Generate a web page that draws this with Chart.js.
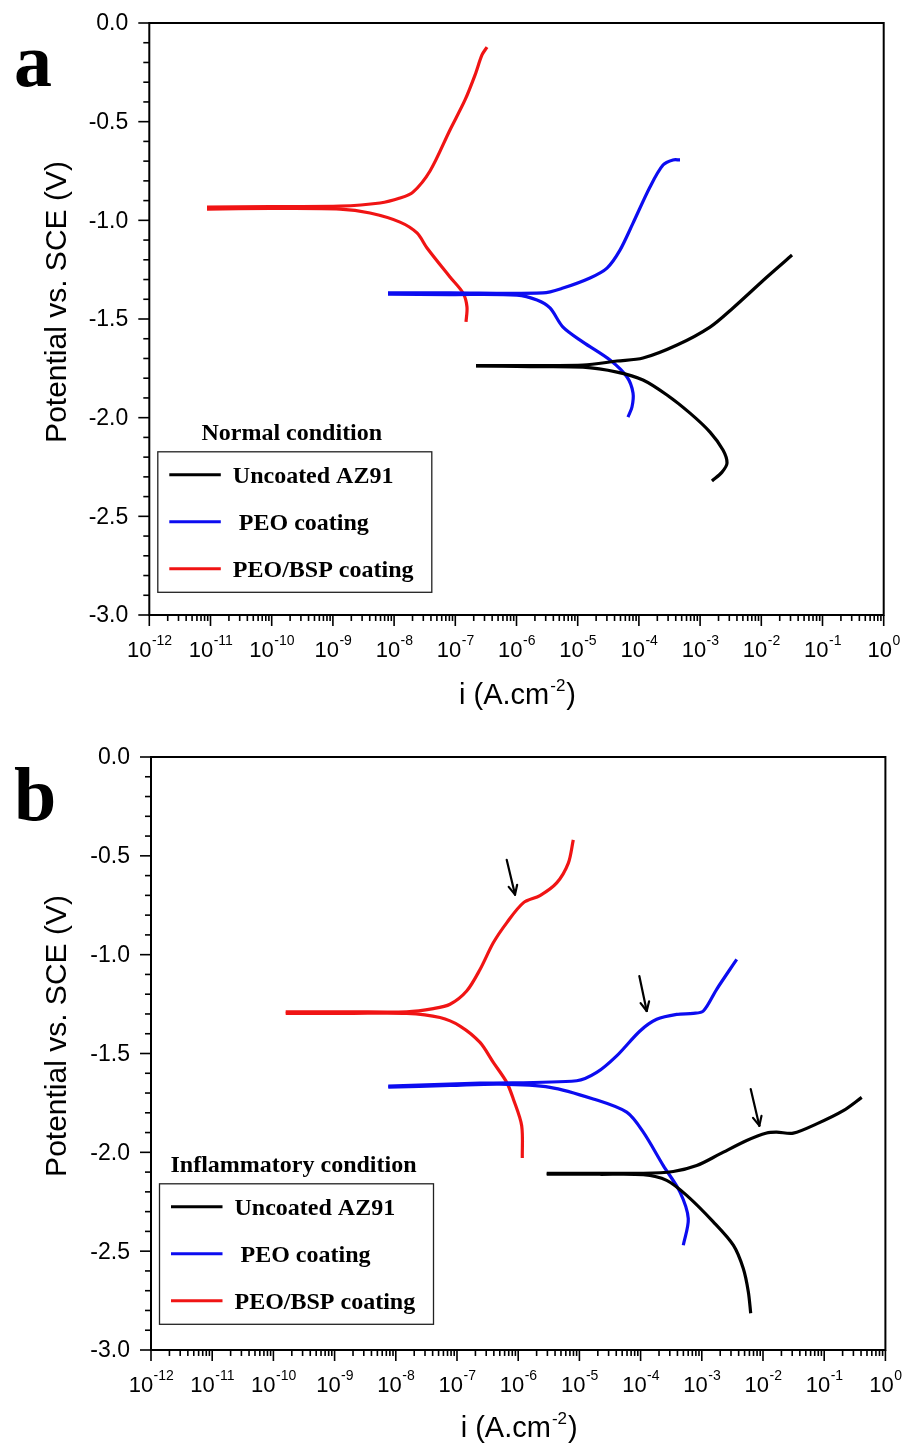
<!DOCTYPE html>
<html>
<head>
<meta charset="utf-8">
<script src="https://cdn.jsdelivr.net/npm/chart.js@4.4.0/dist/chart.umd.min.js"></script>
<style>
html,body{margin:0;padding:0;background:#fff;}
#wrap{position:relative;width:904px;height:1450px;background:#fff;}
.panel{position:absolute;left:0;width:904px;height:725px;}
canvas{display:block;}
</style>
</head>
<body>
<div id="wrap">
  <div class="panel" style="top:0"><canvas id="cA" width="904" height="725"></canvas></div>
  <div class="panel" style="top:725px"><canvas id="cB" width="904" height="725"></canvas></div>
</div>
<script>
// ---------- shared ----------
const seriesNames = ['Uncoated AZ91', ' PEO coating', 'PEO/BSP coating'];
const seriesColors = ['#000000', '#0c0cf0', '#f01414'];
const xDecades = [-12, -11, -10, -9, -8, -7, -6, -5, -4, -3, -2, -1, 0];
const yTickLabels = ['0.0', '-0.5', '-1.0', '-1.5', '-2.0', '-2.5', '-3.0'];
const yMin = -3.0, yMax = 0.0, yStep = 0.5, yMinorStep = 0.1;

// ---------- panel a : normal condition (log10 i, E) ----------
const normUncCathLogI = [-2.806, -2.642, -2.560, -2.626, -2.838, -3.165, -3.541, -3.933, -4.358, -4.913, -5.779, -6.662];
const normUncCathE    = [-2.321, -2.276, -2.230, -2.164, -2.073, -1.977, -1.885, -1.809, -1.769, -1.744, -1.741, -1.738];
const normUncAnodLogI = [-6.662, -4.913, -4.358, -3.933, -3.377, -2.838, -2.462, -1.907, -1.498];
const normUncAnodE    = [-1.736, -1.733, -1.713, -1.698, -1.632, -1.541, -1.444, -1.287, -1.176];

const normPeoCathLogI = [-4.178, -4.113, -4.096, -4.194, -4.472, -4.913, -5.240, -5.453, -5.665, -5.992, -7.087, -8.100];
const normPeoCathE    = [-1.997, -1.946, -1.875, -1.794, -1.708, -1.617, -1.541, -1.444, -1.404, -1.379, -1.376, -1.374];
const normPeoAnodLogI = [-8.100, -7.087, -5.567, -5.240, -4.799, -4.521, -4.309, -4.096, -3.819, -3.606, -3.443, -3.328];
const normPeoAnodE    = [-1.368, -1.368, -1.368, -1.343, -1.292, -1.242, -1.151, -1.014, -0.831, -0.720, -0.694, -0.694];

const normBspCathLogI = [-6.825, -6.809, -6.874, -7.087, -7.462, -7.626, -7.904, -8.394, -8.884, -10.028, -11.057];
const normBspCathE    = [-1.515, -1.439, -1.368, -1.287, -1.140, -1.064, -1.009, -0.963, -0.943, -0.940, -0.943];
const normBspAnodLogI = [-11.057, -10.028, -8.884, -8.230, -7.904, -7.691, -7.413, -7.087, -6.841, -6.678, -6.564, -6.482];
const normBspAnodE    = [-0.933, -0.930, -0.928, -0.912, -0.887, -0.857, -0.750, -0.542, -0.390, -0.264, -0.162, -0.122];

// ---------- panel b : inflammatory condition (log10 i, E) ----------
const inflUncCathLogI = [-2.201, -2.240, -2.322, -2.485, -2.812, -3.247, -3.574, -3.956, -4.663, -5.534];
const inflUncCathE    = [-2.814, -2.705, -2.588, -2.470, -2.352, -2.218, -2.142, -2.113, -2.111, -2.111];
const inflUncAnodLogI = [-5.534, -3.956, -3.466, -3.083, -2.703, -2.266, -1.940, -1.776, -1.505, -1.123, -0.688, -0.387];
const inflUncAnodE    = [-2.106, -2.106, -2.097, -2.067, -2.008, -1.940, -1.902, -1.898, -1.903, -1.856, -1.789, -1.722];

const inflPeoCathLogI = [-3.302, -3.221, -3.356, -3.629, -3.956, -4.227, -4.773, -5.480, -6.297, -7.114, -8.123];
const inflPeoCathE    = [-2.470, -2.335, -2.201, -2.067, -1.898, -1.797, -1.730, -1.671, -1.655, -1.662, -1.670];
const inflPeoAnodLogI = [-8.123, -6.624, -5.044, -4.717, -4.391, -4.010, -3.737, -3.410, -3.139, -2.975, -2.757, -2.430];
const inflPeoAnodE    = [-1.665, -1.650, -1.638, -1.596, -1.512, -1.386, -1.327, -1.302, -1.297, -1.285, -1.175, -1.024];

const inflBspCathLogI = [-5.933, -5.943, -6.080, -6.188, -6.407, -6.624, -6.951, -7.278, -7.822, -8.748, -9.799];
const inflBspCathE    = [-2.029, -1.865, -1.730, -1.646, -1.545, -1.444, -1.361, -1.318, -1.297, -1.297, -1.297];
const inflBspAnodLogI = [-9.799, -8.748, -7.822, -7.387, -7.114, -6.842, -6.624, -6.407, -6.188, -5.917, -5.644, -5.371, -5.181, -5.100];
const inflBspAnodE    = [-1.289, -1.289, -1.289, -1.273, -1.251, -1.184, -1.075, -0.940, -0.839, -0.738, -0.701, -0.637, -0.537, -0.419];

// arrows in panel b (tail -> head)
const inflArrowTailLogI = [-6.188, -4.021, -2.201];
const inflArrowTailE    = [-0.520, -1.108, -1.680];
const inflArrowHeadLogI = [-6.052, -3.900, -2.060];
const inflArrowHeadE    = [-0.696, -1.285, -1.865];

// ---------- helpers ----------
const SANS = "'Liberation Sans', Arial, sans-serif";
const SERIF = "'Liberation Serif', 'Times New Roman', serif";

function pts(logI, E) {
  return logI.map((l, k) => ({ x: Math.pow(10, l), y: E[k] }));
}
function ds(idx, logI, E) {
  return {
    label: seriesNames[idx],
    data: pts(logI, E),
    showLine: true,
    borderColor: seriesColors[idx],
    backgroundColor: seriesColors[idx],
    borderWidth: 3.2,
    pointRadius: 0,
    pointHoverRadius: 0,
    tension: 0.3,
    fill: false
  };
}

function line(ctx, x1, y1, x2, y2) {
  ctx.beginPath(); ctx.moveTo(x1, y1); ctx.lineTo(x2, y2); ctx.stroke();
}

function makePlugin(p) {
  return {
    id: 'decor' + p.letter,
    afterDraw(chart) {
      const ctx = chart.ctx;
      const a = chart.chartArea;
      const xs = chart.scales.x, ys = chart.scales.y;
      ctx.save();
      ctx.strokeStyle = '#000';
      ctx.fillStyle = '#000';
      // frame
      ctx.lineWidth = 2;
      ctx.strokeRect(a.left, a.top, a.right - a.left, a.bottom - a.top);
      // x ticks
      ctx.lineWidth = 1.6;
      xDecades.forEach(n => {
        const px = xs.getPixelForValue(Math.pow(10, n));
        line(ctx, px, a.bottom, px, a.bottom + 11);
        if (n < 0) {
          for (let k = 2; k <= 9; k++) {
            const q = xs.getPixelForValue(k * Math.pow(10, n));
            line(ctx, q, a.bottom, q, a.bottom + 6);
          }
        }
      });
      // y ticks
      const nMinor = Math.round((yMax - yMin) / yMinorStep);
      for (let k = 0; k <= nMinor; k++) {
        const v = yMin + k * yMinorStep;
        const py = ys.getPixelForValue(v);
        const major = Math.abs(v / yStep - Math.round(v / yStep)) < 1e-6;
        line(ctx, a.left, py, a.left - (major ? 11 : 6), py);
      }
      // y labels
      ctx.font = '23px ' + SANS;
      ctx.textAlign = 'right';
      ctx.textBaseline = 'middle';
      yTickLabels.forEach(t => {
        const py = ys.getPixelForValue(parseFloat(t));
        ctx.fillText(t, a.left - 21, py + 1);
      });
      // x labels 10^n
      ctx.textBaseline = 'alphabetic';
      ctx.textAlign = 'left';
      xDecades.forEach(n => {
        const px = xs.getPixelForValue(Math.pow(10, n));
        ctx.font = '22px ' + SANS;
        const wb = ctx.measureText('10').width;
        ctx.font = '14px ' + SANS;
        const et = String(n);
        const we = ctx.measureText(et).width;
        const x0 = px - (wb + we) / 2;
        ctx.font = '22px ' + SANS;
        ctx.fillText('10', x0, a.bottom + 42);
        ctx.font = '14px ' + SANS;
        ctx.fillText(et, x0 + wb + 0.5, a.bottom + 30);
      });
      // x title
      {
        const t1 = 'i (A.cm', t2 = '-2', t3 = ')';
        ctx.font = '29px ' + SANS;
        const w1 = ctx.measureText(t1).width, w3 = ctx.measureText(t3).width;
        ctx.font = '17px ' + SANS;
        const w2 = ctx.measureText(t2).width;
        const cx = (a.left + a.right) / 2;
        const x0 = cx - (w1 + w2 + w3) / 2;
        const by = a.bottom + p.xTitleDy;
        ctx.font = '29px ' + SANS;
        ctx.fillText(t1, x0, by);
        ctx.font = '17px ' + SANS;
        ctx.fillText(t2, x0 + w1 + 1, by - 13);
        ctx.font = '29px ' + SANS;
        ctx.fillText(t3, x0 + w1 + w2 + 2, by);
      }
      // y title
      ctx.save();
      ctx.translate(58, a.top + 279);
      ctx.rotate(-Math.PI / 2);
      ctx.textAlign = 'center';
      ctx.textBaseline = 'middle';
      ctx.font = '30px ' + SANS;
      ctx.fillText('Potential vs. SCE (V)', 0, 0);
      ctx.restore();
      // panel letter
      ctx.font = 'bold 76px ' + SERIF;
      ctx.textAlign = 'left';
      ctx.textBaseline = 'alphabetic';
      ctx.fillText(p.letter, 14, p.letterBaseline);
      // legend
      const bx = a.left + 8.5, bw = 274, bh = 140.5;
      const by = a.bottom - p.legendBottomGap - bh;
      ctx.fillStyle = '#fff';
      ctx.fillRect(bx, by, bw, bh);
      ctx.strokeStyle = '#222';
      ctx.lineWidth = 1.3;
      ctx.strokeRect(bx, by, bw, bh);
      ctx.fillStyle = '#000';
      ctx.font = 'bold 24px ' + SERIF;
      ctx.textAlign = 'center';
      ctx.fillText(p.title, bx + bw / 2 - 3, by - 12);
      ctx.textAlign = 'left';
      const rows = [23, 70, 117];
      seriesNames.forEach((nm, k) => {
        const ly = by + rows[k];
        ctx.strokeStyle = seriesColors[k];
        ctx.lineWidth = 3;
        line(ctx, bx + 11.5, ly, bx + 63, ly);
        ctx.fillStyle = '#000';
        ctx.font = 'bold 24px ' + SERIF;
        ctx.fillText(nm, bx + 75, ly + 8.5);
      });
      // arrows
      if (p.arrows) {
        ctx.strokeStyle = '#000';
        ctx.lineWidth = 2.2;
        ctx.lineCap = 'round';
        for (let k = 0; k < p.arrows.tailL.length; k++) {
          const x1 = xs.getPixelForValue(Math.pow(10, p.arrows.tailL[k]));
          const y1 = ys.getPixelForValue(p.arrows.tailE[k]);
          const x2 = xs.getPixelForValue(Math.pow(10, p.arrows.headL[k]));
          const y2 = ys.getPixelForValue(p.arrows.headE[k]);
          line(ctx, x1, y1, x2, y2);
          const ang = Math.atan2(y2 - y1, x2 - x1);
          const hl = 10, spread = 0.45;
          line(ctx, x2, y2, x2 - hl * Math.cos(ang - spread), y2 - hl * Math.sin(ang - spread));
          line(ctx, x2, y2, x2 - hl * Math.cos(ang + spread), y2 - hl * Math.sin(ang + spread));
        }
      }
      ctx.restore();
    }
  };
}

function makeChart(id, datasets, p) {
  return new Chart(document.getElementById(id), {
    type: 'scatter',
    data: { datasets },
    options: {
      responsive: false,
      animation: false,
      events: [],
      layout: { padding: { top: p.padTop, right: p.padRight, left: 0, bottom: 0 } },
      plugins: { legend: { display: false }, tooltip: { enabled: false }, title: { display: false } },
      scales: {
        x: {
          type: 'logarithmic',
          min: 1e-12, max: 1,
          ticks: { display: false },
          grid: { display: false, drawTicks: false },
          border: { display: false },
          afterFit: s => { s.height = p.xAxisHeight; }
        },
        y: {
          type: 'linear',
          min: yMin, max: yMax,
          ticks: { display: false, stepSize: yStep },
          grid: { display: false, drawTicks: false },
          border: { display: false },
          afterFit: s => { s.width = p.yAxisWidth; }
        }
      }
    },
    plugins: [makePlugin(p)]
  });
}

makeChart('cA', [
  ds(0, normUncCathLogI, normUncCathE), ds(0, normUncAnodLogI, normUncAnodE),
  ds(1, normPeoCathLogI, normPeoCathE), ds(1, normPeoAnodLogI, normPeoAnodE),
  ds(2, normBspCathLogI, normBspCathE), ds(2, normBspAnodLogI, normBspAnodE)
], {
  letter: 'a', title: 'Normal condition', letterBaseline: 86,
  padTop: 23, padRight: 20.3, xAxisHeight: 110, yAxisWidth: 149.3,
  xTitleDy: 89, legendBottomGap: 22.7, arrows: null
});

makeChart('cB', [
  ds(0, inflUncCathLogI, inflUncCathE), ds(0, inflUncAnodLogI, inflUncAnodE),
  ds(1, inflPeoCathLogI, inflPeoCathE), ds(1, inflPeoAnodLogI, inflPeoAnodE),
  ds(2, inflBspCathLogI, inflBspCathE), ds(2, inflBspAnodLogI, inflBspAnodE)
], {
  letter: 'b', title: 'Inflammatory condition', letterBaseline: 95,
  padTop: 32, padRight: 18.6, xAxisHeight: 100, yAxisWidth: 151,
  xTitleDy: 87, legendBottomGap: 25.7,
  arrows: { tailL: inflArrowTailLogI, tailE: inflArrowTailE, headL: inflArrowHeadLogI, headE: inflArrowHeadE }
});
</script>
</body>
</html>
